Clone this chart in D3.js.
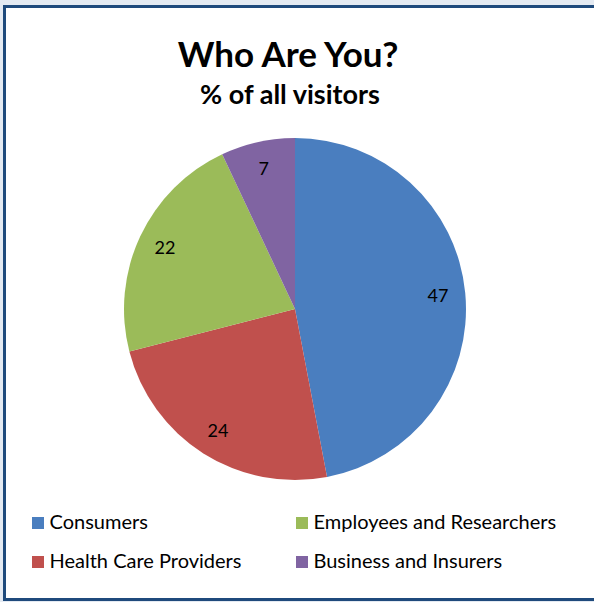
<!DOCTYPE html>
<html>
<head>
<meta charset="utf-8">
<script src="https://cdn.jsdelivr.net/npm/d3@7"></script>
<style>
  html, body { margin: 0; padding: 0; background: #dfe6ef; }
  svg { display: block; }
</style>
</head>
<body>
<svg id="chart" width="594" height="602"></svg>
<script>
const categories = ["Consumers", "Health Care Providers", "Employees and Researchers", "Business and Insurers"];
const values = [47, 24, 22, 7];
const colors = ["#4a7ebf", "#c0504d", "#9bbb59", "#8064a2"];
const legendOrder = ["Consumers", "Employees and Researchers", "Health Care Providers", "Business and Insurers"];
const title = "Who Are You?";
const subtitle = "% of all visitors";

const svg = d3.select("#chart");
const font = "Lato, 'Open Sans', sans-serif";

// background & frame
svg.append("rect").attr("x", 0).attr("y", 0).attr("width", 594).attr("height", 602).attr("fill", "#e4eaf2");
svg.append("rect").attr("x", 4.5).attr("y", 6.5).attr("width", 600).attr("height", 593)
  .attr("fill", "#ffffff").attr("stroke", "#1f4a7c").attr("stroke-width", 3);

svg.append("text").attr("x", 288).attr("y", 67).attr("text-anchor", "middle")
  .attr("font-family", font).attr("font-weight", "bold").attr("font-size", 35)
  .attr("fill", "#000").text(title);
svg.append("text").attr("x", 290).attr("y", 104).attr("text-anchor", "middle")
  .attr("font-family", font).attr("font-weight", "bold").attr("font-size", 27)
  .attr("fill", "#000").text(subtitle);

const color = d3.scaleOrdinal().domain(categories).range(colors);
const cx = 295, cy = 309, r = 171;
const pie = d3.pie().sort(null).value(d => d.value);
const data = categories.map((c, i) => ({ name: c, value: values[i] }));
const arcs = pie(data);
const arc = d3.arc().innerRadius(0).outerRadius(r);
const labelArc = d3.arc().innerRadius(r * 0.84).outerRadius(r * 0.84);

const g = svg.append("g").attr("transform", `translate(${cx},${cy})`);
g.selectAll("path").data(arcs).join("path")
  .attr("d", arc).attr("fill", d => color(d.data.name));
g.selectAll("text").data(arcs).join("text")
  .attr("transform", d => `translate(${labelArc.centroid(d)})`)
  .attr("text-anchor", "middle").attr("dy", "0.35em")
  .attr("font-family", font).attr("font-size", 18).attr("fill", "#000")
  .text(d => d.data.value);

// legend
const legendPos = [[32, 517], [296, 517], [32, 556], [296, 556]];
const lg = svg.append("g");
legendOrder.forEach((name, i) => {
  const [x, y] = legendPos[i];
  lg.append("rect").attr("x", x).attr("y", y).attr("width", 12).attr("height", 12).attr("fill", color(name));
  lg.append("text").attr("x", x + 17.5).attr("y", y + 12).attr("font-family", font)
    .attr("font-size", 20).attr("fill", "#000").text(name);
});
</script>
</body>
</html>
